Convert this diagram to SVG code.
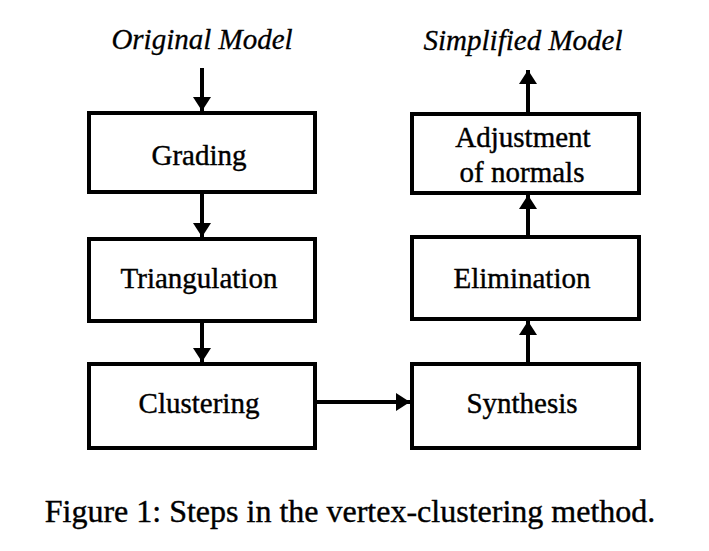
<svg xmlns="http://www.w3.org/2000/svg" width="709" height="551" viewBox="0 0 709 551">
<defs>
<style>
.box{fill:#fff;stroke:#000;stroke-width:4}
.lbl{font-family:"Liberation Serif","Times New Roman",serif;font-size:29px;fill:#000;stroke:#000;stroke-width:0.4;text-anchor:middle}
.ttl{font-family:"Liberation Serif","Times New Roman",serif;font-size:29px;font-style:italic;fill:#000;stroke:#000;stroke-width:0.3;text-anchor:middle}
.cap{font-family:"Liberation Serif","Times New Roman",serif;font-size:32px;fill:#000;stroke:#000;stroke-width:0.4;text-anchor:middle}
.edge{stroke:#000;stroke-width:4;fill:none}
</style>
<marker id="ah" viewBox="0 0 14 18" refX="14" refY="9" markerWidth="14" markerHeight="18" markerUnits="userSpaceOnUse" orient="auto">
<path d="M0,0 L14,9 L0,18 Z" fill="#000"/>
</marker>
</defs>
<rect width="709" height="551" fill="#fff"/>
<text class="ttl" x="202" y="49">Original Model</text>
<text class="ttl" x="523" y="50">Simplified Model</text>
<g id="grading"><rect class="box" x="89" y="113" width="226" height="79"/><text class="lbl" x="199" y="165">Grading</text></g>
<g id="triangulation"><rect class="box" x="89" y="239" width="226" height="82"/><text class="lbl" x="199" y="288">Triangulation</text></g>
<g id="clustering"><rect class="box" x="89" y="364" width="226" height="84"/><text class="lbl" x="199" y="413">Clustering</text></g>
<g id="synthesis"><rect class="box" x="412" y="364" width="227" height="84"/><text class="lbl" x="522" y="413">Synthesis</text></g>
<g id="elimination"><rect class="box" x="412" y="237" width="227" height="82"/><text class="lbl" x="522" y="288">Elimination</text></g>
<g id="adjustment"><rect class="box" x="412" y="114" width="227" height="79"/><text class="lbl" x="523" y="147">Adjustment</text><text class="lbl" x="522" y="182">of normals</text></g>
<g id="connectors">
<line class="edge" x1="202" y1="68" x2="202" y2="111" marker-end="url(#ah)"/>
<line class="edge" x1="202" y1="194" x2="202" y2="237" marker-end="url(#ah)"/>
<line class="edge" x1="202" y1="323" x2="202" y2="362" marker-end="url(#ah)"/>
<line class="edge" x1="317" y1="402" x2="410" y2="402" marker-end="url(#ah)"/>
<line class="edge" x1="528" y1="362" x2="528" y2="321" marker-end="url(#ah)"/>
<line class="edge" x1="528" y1="235" x2="528" y2="195" marker-end="url(#ah)"/>
<line class="edge" x1="528" y1="112" x2="528" y2="70" marker-end="url(#ah)"/>
</g>
<text class="cap" x="350" y="522">Figure 1: Steps in the vertex-clustering method.</text>
</svg>
